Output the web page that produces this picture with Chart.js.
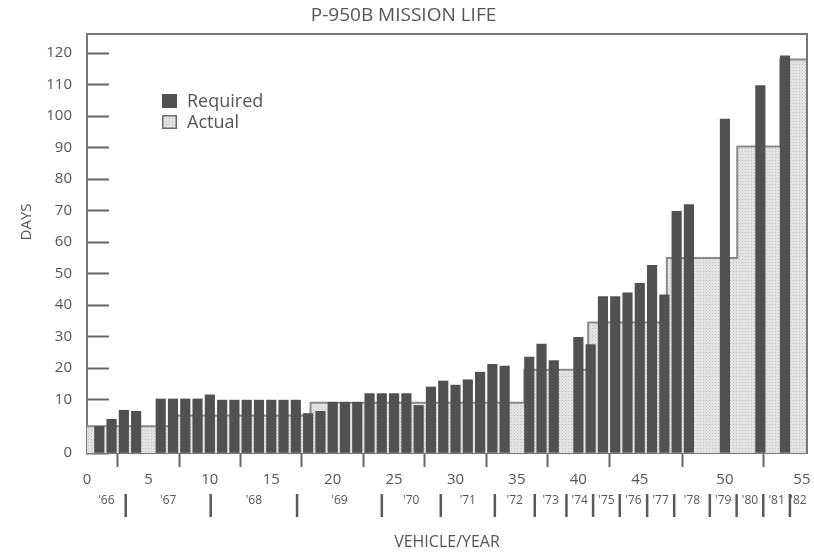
<!DOCTYPE html>
<html>
<head>
<meta charset="utf-8">
<title>P-950B Mission Life</title>
<script src="https://cdn.jsdelivr.net/npm/chart.js@4.4.1/dist/chart.umd.min.js"></script>
<style>
  html, body { margin: 0; padding: 0; background: #fff; }
  #chart { display: block; }
</style>
</head>
<body>
<canvas id="chart" width="814" height="558"></canvas>
<script>
// --- Data ---
// vehicle number of each "Required" bar (no bar for 5, 35, 39, 51, 53)
const vehicles = [1, 2, 3, 4, 6, 7, 8, 9, 10, 11, 12, 13, 14, 15, 16, 17, 18, 19, 20,
    21, 22, 23, 24, 25, 26, 27, 28, 29, 30, 31, 32, 33, 34, 36, 37, 38,
    40, 41, 42, 43, 44, 45, 46, 47, 48, 49, 50, 52.3, 53.9];
const requiredDays = [5, 6.3, 8, 7.8, 10.2, 10.2, 10.2, 10.2, 11.5, 9.9, 9.9, 9.9, 9.9, 9.9, 9.9, 9.9, 7.4, 7.8, 9.5,
    9.5, 9.5, 11.9, 11.9, 11.9, 11.9, 8.9, 14, 15.9, 14.6, 16.3, 18.7, 21.2, 20.6, 23.5, 27.6, 22.4,
    29.8, 27.5, 42.7, 42.7, 43.9, 46.9, 52.6, 43.3, 69.8, 71.9, 99.1, 109.7, 119.2];

// "Actual" mission life: each level holds from its start vehicle to the next one
const actualFrom = [0, 6.9, 18.2, 35.6, 40.8, 47.2, 50.8, 53.6];
const actualDays = [5, 7, 9.4, 19.5, 34.5, 55, 90.4, 118];
const lastVehicle = 55.33;

// year row under the vehicle axis
const yearLabels = ["'66", "'67", "'68", "'69", "'70", "'71", "'72", "'73", "'74",
    "'75", "'76", "'77", "'78", "'79", "'80", "'81", "'82"];
const yearBreaks = [3.15, 10.07, 17.1, 24, 28.8, 33.2, 36.45, 39.03, 41.2,
    43.37, 45.6, 47.8, 49.58, 50.76, 52.49, 54.22];

const dayStep = 10;
const vehicleStep = 5;
const dayMax = 126.1;

// --- Hand-drawn axes are not uniform: piecewise linear scale ---
class BrokenScale extends Chart.LinearScale {
    static id = 'broken';
    static defaults = {};
    toDecimal(v) {
        const k = this.options.knots;
        let i = 1;
        while (i < k.length - 1 && v > k[i][0]) i++;
        const [v0, d0] = k[i - 1], [v1, d1] = k[i];
        return d0 + (v - v0) / (v1 - v0) * (d1 - d0);
    }
    getPixelForValue(value) {
        if (value === null || isNaN(value)) return NaN;
        return this.getPixelForDecimal(this.toDecimal(value));
    }
    getValueForPixel(pixel) {
        const d = this.getDecimalForPixel(pixel);
        const k = this.options.knots;
        let i = 1;
        while (i < k.length - 1 && d > k[i][1]) i++;
        const [v0, d0] = k[i - 1], [v1, d1] = k[i];
        return v0 + (d - d0) / (d1 - d0) * (v1 - v0);
    }
}
Chart.register(BrokenScale);

const FONT = "'Open Sans', 'Noto Sans', sans-serif";
const TEXT = '#555';
const DARK = '#515151';
const EDGE = '#8a8a8a';
Chart.defaults.font.family = FONT;
Chart.defaults.color = TEXT;

// stippled light grey like the printed "Actual" area
function dotPattern() {
    const c = document.createElement('canvas');
    c.width = 3; c.height = 3;
    const g = c.getContext('2d');
    g.fillStyle = '#e2e2e2'; g.fillRect(0, 0, 3, 3);
    g.fillStyle = '#c6c6c6'; g.fillRect(1, 1, 1, 1);
    return g.createPattern(c, 'repeat');
}
const actualFill = dotPattern();

const actualPoints = actualFrom.map((v, i) => ({ x: v, y: actualDays[i] }));
actualPoints.push({ x: lastVehicle, y: actualDays[actualDays.length - 1] });

// frame, year row, rotated DAYS label and legend
const decor = {
    id: 'decor',
    afterDraw(chart) {
        const { ctx, chartArea: a, scales: { x } } = chart;
        ctx.save();
        ctx.strokeStyle = '#777';
        ctx.lineWidth = 2;
        ctx.beginPath();
        ctx.moveTo(a.left, a.top);
        ctx.lineTo(a.right, a.top);
        ctx.lineTo(a.right, a.bottom);
        ctx.stroke();

        // year separators and labels
        ctx.strokeStyle = '#5a5a5a';
        ctx.lineWidth = 2.5;
        yearBreaks.forEach(v => {
            const px = x.getPixelForValue(v);
            ctx.beginPath();
            ctx.moveTo(px, a.bottom + 41);
            ctx.lineTo(px, a.bottom + 64);
            ctx.stroke();
        });
        const edges = [0, ...yearBreaks, lastVehicle].map(v => x.getPixelForValue(v));
        ctx.fillStyle = TEXT;
        ctx.font = '12px ' + FONT;
        ctx.textAlign = 'center';
        ctx.textBaseline = 'middle';
        yearLabels.forEach((t, i) => ctx.fillText(t, (edges[i] + edges[i + 1]) / 2, a.bottom + 48));

        // y axis title
        ctx.save();
        ctx.translate(27, 222);
        ctx.rotate(-Math.PI / 2);
        ctx.font = '15px ' + FONT;
        ctx.fillText('DAYS', 0, 0);
        ctx.restore();

        // legend
        const lx = a.left + 75, ly = a.top + 60;
        ctx.fillStyle = DARK;
        ctx.fillRect(lx, ly, 15, 14);
        ctx.fillStyle = actualFill;
        ctx.fillRect(lx, ly + 21, 15, 14);
        ctx.strokeStyle = '#6a6a6a';
        ctx.lineWidth = 1.5;
        ctx.strokeRect(lx + 0.75, ly + 21.75, 13.5, 12.5);
        ctx.fillStyle = TEXT;
        ctx.font = '18px ' + FONT;
        ctx.textAlign = 'left';
        ctx.fillText('Required', lx + 25, ly + 8);
        ctx.fillText('Actual', lx + 25, ly + 29);
        ctx.restore();
    }
};

new Chart(document.getElementById('chart'), {
    data: {
        datasets: [{
            type: 'bar',
            label: 'Required',
            data: vehicles.map((v, i) => ({ x: v, y: requiredDays[i] })),
            backgroundColor: DARK,
            barThickness: 9.5,
            order: 0
        }, {
            type: 'line',
            label: 'Actual',
            data: actualPoints,
            stepped: 'before',
            fill: 'origin',
            backgroundColor: actualFill,
            borderColor: EDGE,
            borderWidth: 2,
            pointRadius: 0,
            order: 1
        }]
    },
    options: {
        responsive: false,
        animation: false,
        layout: { padding: { left: 0, right: 7, top: 0, bottom: 0 } },
        plugins: {
            legend: { display: false },
            tooltip: { enabled: false },
            title: {
                display: true,
                text: 'P-950B MISSION LIFE',
                color: TEXT,
                font: { size: 19, weight: 'normal' },
                padding: { top: 4, bottom: 7.2 }
            }
        },
        scales: {
            x: {
                type: 'broken',
                min: 0,
                max: lastVehicle,
                knots: [[0, 0], [49, 0.836], [50, 0.886], [lastVehicle, 1]],
                ticks: { stepSize: vehicleStep, includeBounds: false, padding: 4, maxRotation: 0, autoSkip: false, font: { size: 15 } },
                grid: { drawOnChartArea: false, tickLength: 14, tickColor: '#666', tickWidth: 2 },
                border: { color: '#777', width: 2 },
                title: { display: true, text: 'VEHICLE/YEAR', font: { size: 16 }, padding: { top: 0, bottom: 6 } },
                afterFit: s => { s.height = 105; s.paddingLeft = 0; s.paddingRight = 0; }
            },
            y: {
                type: 'broken',
                min: 0,
                max: dayMax,
                knots: [[0, 0], [10, 0.1275], [dayMax, 1]],
                ticks: { stepSize: dayStep, includeBounds: false, padding: 37, font: { size: 15 } },
                grid: { drawOnChartArea: false, tickLength: -22, tickColor: '#666', tickWidth: 2 },
                border: { color: '#777', width: 2 },
                afterFit: s => { s.width = 87; s.paddingTop = 0; s.paddingBottom = 0; }
            }
        }
    },
    plugins: [decor]
});
</script>
</body>
</html>
